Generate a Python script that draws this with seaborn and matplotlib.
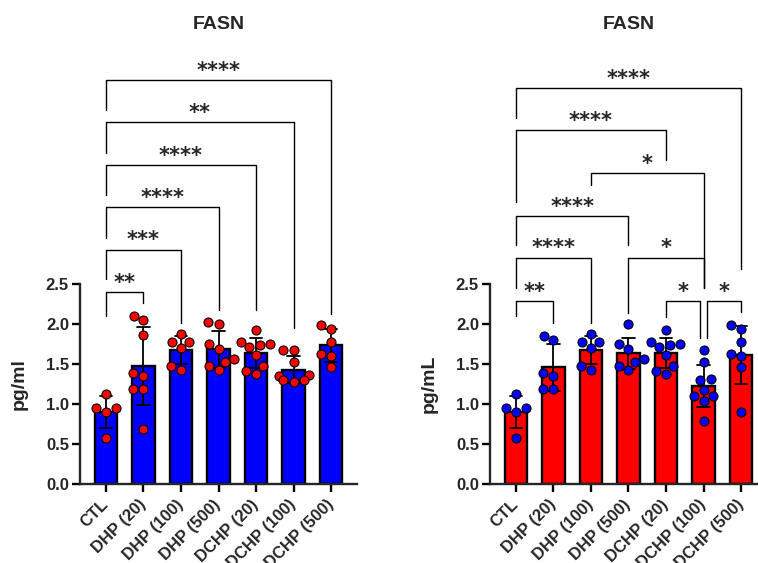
import numpy as np
import pandas as pd
import seaborn as sns
import matplotlib.pyplot as plt

# =============================================================================
# Data
# =============================================================================

groups = ["CTL", "DHP (20)", "DHP (100)", "DHP (500)",
          "DCHP (20)", "DCHP (100)", "DCHP (500)"]

# left panel, pg/ml, one list per group in the order of `groups`
fasn_pg_ml = [
    [1.12, 0.95, 0.95, 0.90, 0.57],
    [2.05, 2.10, 1.86, 1.39, 1.35, 1.19, 1.19, 0.69],
    [1.87, 1.78, 1.77, 1.70, 1.48, 1.43],
    [2.03, 2.00, 1.75, 1.69, 1.56, 1.53, 1.48, 1.43],
    [1.92, 1.77, 1.75, 1.74, 1.71, 1.61, 1.47, 1.41, 1.37],
    [1.67, 1.67, 1.52, 1.36, 1.35, 1.30, 1.30, 1.28],
    [1.99, 1.94, 1.77, 1.63, 1.60, 1.46],
]

# right panel, pg/mL
fasn_pg_mL = [
    [1.12, 0.95, 0.95, 0.90, 0.57],
    [1.85, 1.80, 1.39, 1.35, 1.19, 1.19],
    [1.87, 1.78, 1.77, 1.70, 1.48, 1.43],
    [2.00, 1.75, 1.69, 1.56, 1.53, 1.48, 1.43],
    [1.92, 1.77, 1.75, 1.74, 1.71, 1.61, 1.47, 1.41, 1.37],
    [1.67, 1.52, 1.31, 1.30, 1.18, 1.10, 1.10, 1.04, 0.79],
    [1.99, 1.94, 1.77, 1.63, 1.60, 1.46, 0.90],
]

# significance brackets: (group a, group b, stars, bar height, foot a, foot b)
brackets_ml = [
    (0, 1, "**", 2.40, 2.10, 2.26),
    (0, 2, "***", 2.93, 2.56, 2.01),
    (0, 3, "****", 3.46, 3.08, 2.18),
    (0, 4, "****", 3.99, 3.61, 2.17),
    (0, 5, "**", 4.52, 4.14, 1.95),
    (0, 6, "****", 5.05, 4.67, 2.13),
]

brackets_mL = [
    (0, 1, "**", 2.29, 2.10, 2.01),
    (4, 5, "*", 2.29, 2.09, 1.82),
    (5, 6, "*", 2.29, 1.82, 2.15),
    (0, 2, "****", 2.83, 2.45, 2.01),
    (3, 5, "*", 2.83, 2.14, 2.45),
    (0, 3, "****", 3.35, 2.99, 2.99),
    (2, 5, "*", 3.89, 3.74, 2.45),
    (0, 4, "****", 4.42, 3.52, 4.05),
    (0, 6, "****", 4.95, 4.57, 2.69),
]

# =============================================================================
# Style
# =============================================================================

sns.set_style("ticks")
plt.rcParams["font.family"] = ["Liberation Sans", "DejaVu Sans"]
plt.rcParams["font.weight"] = "bold"

LW = 1.7


def to_long(values):
    rows = []
    for g, vals in zip(groups, values):
        for v in vals:
            rows.append({"Group": g, "Value": v})
    return pd.DataFrame(rows)


def draw_brackets(ax, brackets):
    for a, b, stars, level, foot_a, foot_b in brackets:
        xa, xb = float(a), float(b)
        # nudge ends that share a group with another bracket on the same level
        for a2, b2, _, level2, _, _ in brackets:
            if level2 != level or (a2, b2) == (a, b):
                continue
            if b2 == a:
                xa += 0.1
            if a2 == b:
                xb -= 0.1
        ax.plot([xa, xa, xb, xb], [foot_a, level, level, foot_b],
                color="black", linewidth=1.0, clip_on=False, zorder=4)
        ax.text((xa + xb) / 2, level + 0.04, stars, ha="center",
                va="baseline", fontsize=15, fontweight="bold",
                family="DejaVu Sans")


def draw_panel(ax, values, bar_color, dot_color, ylabel, brackets):
    df = to_long(values)

    sns.barplot(
        data=df, x="Group", y="Value", order=groups,
        color=bar_color, saturation=1, width=0.6,
        edgecolor="black", linewidth=LW,
        errorbar="sd", capsize=0.33,
        err_kws={"color": "black", "linewidth": 1.3},
        ax=ax
    )

    sns.swarmplot(
        data=df, x="Group", y="Value", order=groups,
        color=dot_color, edgecolor="black", linewidth=0.8,
        size=6.5, ax=ax
    )
    for c in ax.collections:
        c.set_zorder(3)

    draw_brackets(ax, brackets)

    ax.set_xlim(-0.69, 6.69)
    ax.set_ylim(0, 6)
    ax.set_yticks(np.arange(0, 2.51, 0.5))
    ax.set_yticklabels([f"{t:.1f}" for t in np.arange(0, 2.51, 0.5)],
                       fontsize=12, fontweight="bold")
    ax.set_xticks(range(len(groups)))
    ax.set_xticklabels(groups, rotation=45, ha="right", va="center",
                       rotation_mode="anchor", fontsize=12,
                       fontweight="bold")

    ax.spines[["top", "right"]].set_visible(False)
    ax.spines["left"].set_bounds(0, 2.5)
    for side in ["left", "bottom"]:
        ax.spines[side].set_linewidth(LW)
    ax.tick_params(width=LW, length=6, pad=2, color="black")
    ax.tick_params(axis="x", pad=7)

    ax.set_xlabel("")
    ax.set_ylabel(ylabel, fontsize=14, fontweight="bold")
    ax.yaxis.set_label_coords(-0.19, 1.25 / 6)

    ax.text(3, 5.74, "FASN", ha="center", va="center",
            fontsize=14, fontweight="bold")


# =============================================================================
# Figure
# =============================================================================

fig = plt.figure(figsize=(7.58, 5.63), dpi=100)
ax_l = fig.add_axes([80 / 758, 1 - 484 / 563, 277 / 758, 480 / 563])
ax_r = fig.add_axes([490 / 758, 1 - 484 / 563, 277 / 758, 480 / 563])

draw_panel(ax_l, fasn_pg_ml, "#0000FF", "#FF0000", "pg/ml", brackets_ml)
draw_panel(ax_r, fasn_pg_mL, "#FF0000", "#0000FF", "pg/mL", brackets_mL)

fig.savefig("out.png", dpi=100)
